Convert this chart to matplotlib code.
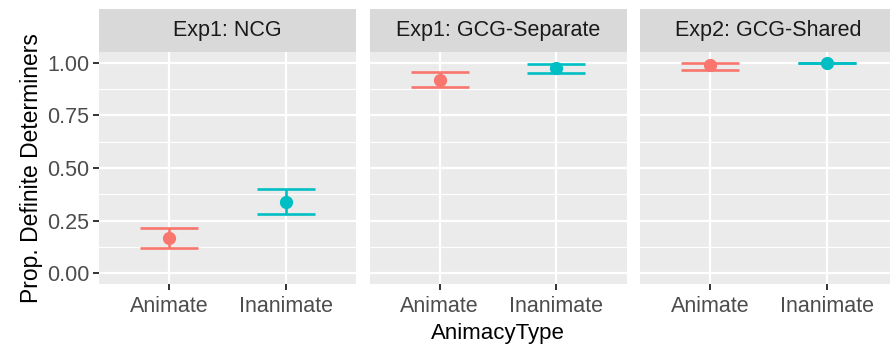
import matplotlib.pyplot as plt
import numpy as np

plt.rcParams['font.family'] = ['Liberation Sans', 'DejaVu Sans']

# data
panels = ['Exp1: NCG', 'Exp1: GCG-Separate', 'Exp2: GCG-Shared']
categories = ['Animate', 'Inanimate']
means = [[0.17, 0.341], [0.918, 0.973], [0.99, 1.0]]
lower = [[0.123, 0.284], [0.882, 0.951], [0.966, 1.0]]
upper = [[0.217, 0.402], [0.953, 0.994], [1.0, 1.0]]
colors = ['#F8766D', '#00BFC4']
yticks = [0.00, 0.25, 0.50, 0.75, 1.00]

W, H = 890, 346
fig = plt.figure(figsize=(W / 100, H / 100), dpi=100)

panel_w = 257
lefts = [99, 369.5, 640]
bottom_px, top_px, strip_top = 284, 52, 9

for i, name in enumerate(panels):
    ax = fig.add_axes([lefts[i] / W, (H - bottom_px) / H, panel_w / W, (bottom_px - top_px) / H])
    ax.set_facecolor('#EBEBEB')
    ax.set_xlim(0.4, 2.6)
    ax.set_ylim(-0.05, 1.05)
    # grid
    for y in np.arange(0.125, 1.0, 0.25):
        ax.axhline(y, color='white', lw=0.8, zorder=1)
    for y in yticks:
        ax.axhline(y, color='white', lw=1.6, zorder=1)
    for x in [1, 2]:
        ax.axvline(x, color='white', lw=1.6, zorder=1)
    x = np.arange(1, len(categories) + 1)
    for j in range(len(categories)):
        ax.errorbar(x[j], means[i][j],
                    yerr=[[means[i][j] - lower[i][j]], [upper[i][j] - means[i][j]]],
                    fmt='o', color=colors[j], ms=8.5, elinewidth=1.9,
                    capsize=21, capthick=1.9, zorder=3)
    ax.set_xticks(x)
    ax.set_xticklabels(categories, fontsize=15.5, color='#4D4D4D')
    ax.set_yticks(yticks)
    ax.tick_params(axis='both', color='#333333', width=1.4, length=4, pad=3)
    ax.tick_params(axis='x', pad=5)
    if i == 0:
        ax.set_yticklabels(['%.2f' % v for v in yticks], fontsize=15.5, color='#4D4D4D')
        ax.set_ylabel('Prop. Definite Determiners', fontsize=16.5, color='black', labelpad=3)
    else:
        ax.tick_params(axis='y', length=0, labelleft=False)
    if i == 1:
        ax.set_xlabel('AnimacyType', fontsize=16, color='black', labelpad=4)
    for s in ax.spines.values():
        s.set_visible(False)
    # strip
    sax = fig.add_axes([lefts[i] / W, (H - top_px) / H, panel_w / W, (top_px - strip_top) / H])
    sax.set_facecolor('#D9D9D9')
    sax.set_xticks([])
    sax.set_yticks([])
    for s in sax.spines.values():
        s.set_visible(False)
    sax.text(0.5, 0.5, name, ha='center', va='center', fontsize=15.5, color='#1A1A1A',
             transform=sax.transAxes)

fig.savefig('out.png', dpi=100)
